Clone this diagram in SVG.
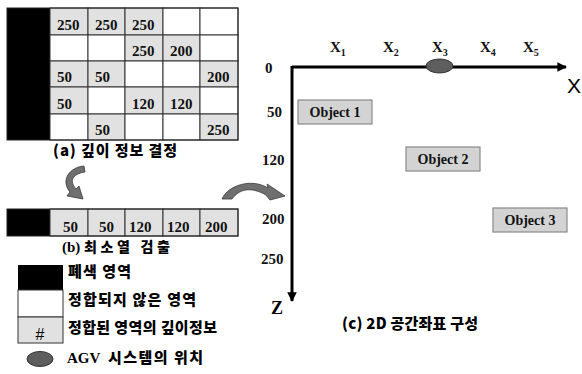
<svg xmlns="http://www.w3.org/2000/svg" width="582" height="374" viewBox="0 0 582 374">
  <style>
    .num { font-family: "Liberation Serif", "Times New Roman", serif; font-weight: bold; font-size: 15px; fill: #111; }
    .ko { font-family: "Noto Sans CJK KR", "Noto Sans", sans-serif; font-weight: 900; font-size: 15px; fill: #000; }
    .ser { font-family: "Liberation Serif", "Times New Roman", serif; font-weight: bold; font-size: 15px; fill: #000; }
    .cell { stroke: #333; stroke-width: 1; }
    .g { fill: #e1e1e1; }
    .w { fill: #ffffff; }
    .blk { fill: #000; }
    .obj rect { fill: #d3d3d3; stroke: #8a8a8a; stroke-width: 1.2; }
    .obj text { font-family: "Liberation Serif", "Times New Roman", serif; font-weight: bold; font-size: 14px; fill: #111; text-anchor: middle; }
    .curve { fill: #6f6f6f; stroke: #3a3a3a; stroke-width: 0.8; }
    .axis { stroke: #000; stroke-width: 3; fill: none; }
  </style>
  <defs>
    <marker id="ah" viewBox="0 0 10 10" refX="9" refY="5" markerWidth="3.6" markerHeight="3.2" orient="auto" markerUnits="strokeWidth">
      <path d="M0,0 L10,5 L0,10 z" fill="#000"/>
    </marker>
  </defs>

  <!-- (a) depth grid -->
  <g id="grid-a">
    <rect class="blk" x="7" y="8" width="43" height="132"/>
    <!-- row 0 -->
    <rect class="cell g" x="50" y="8" width="38" height="27"/>
    <rect class="cell g" x="88" y="8" width="37" height="27"/>
    <rect class="cell g" x="125" y="8" width="38" height="27"/>
    <rect class="cell w" x="163" y="8" width="37" height="27"/>
    <rect class="cell w" x="200" y="8" width="38" height="27"/>
    <!-- row 1 -->
    <rect class="cell w" x="50" y="35" width="38" height="26"/>
    <rect class="cell w" x="88" y="35" width="37" height="26"/>
    <rect class="cell g" x="125" y="35" width="38" height="26"/>
    <rect class="cell g" x="163" y="35" width="37" height="26"/>
    <rect class="cell w" x="200" y="35" width="38" height="26"/>
    <!-- row 2 -->
    <rect class="cell g" x="50" y="61" width="38" height="26"/>
    <rect class="cell g" x="88" y="61" width="37" height="26"/>
    <rect class="cell w" x="125" y="61" width="38" height="26"/>
    <rect class="cell w" x="163" y="61" width="37" height="26"/>
    <rect class="cell g" x="200" y="61" width="38" height="26"/>
    <!-- row 3 -->
    <rect class="cell g" x="50" y="87" width="38" height="27"/>
    <rect class="cell w" x="88" y="87" width="37" height="27"/>
    <rect class="cell g" x="125" y="87" width="38" height="27"/>
    <rect class="cell g" x="163" y="87" width="37" height="27"/>
    <rect class="cell w" x="200" y="87" width="38" height="27"/>
    <!-- row 4 -->
    <rect class="cell w" x="50" y="114" width="38" height="26"/>
    <rect class="cell g" x="88" y="114" width="37" height="26"/>
    <rect class="cell w" x="125" y="114" width="38" height="26"/>
    <rect class="cell w" x="163" y="114" width="37" height="26"/>
    <rect class="cell g" x="200" y="114" width="38" height="26"/>
    <rect x="7" y="8" width="231" height="132" fill="none" stroke="#222" stroke-width="1"/>
    <text class="num" x="57" y="30">250</text>
    <text class="num" x="95" y="30">250</text>
    <text class="num" x="132" y="30">250</text>
    <text class="num" x="132" y="56">250</text>
    <text class="num" x="170" y="56">200</text>
    <text class="num" x="57" y="82">50</text>
    <text class="num" x="95" y="82">50</text>
    <text class="num" x="207" y="82">200</text>
    <text class="num" x="57" y="109">50</text>
    <text class="num" x="132" y="109">120</text>
    <text class="num" x="170" y="109">120</text>
    <text class="num" x="95" y="135">50</text>
    <text class="num" x="207" y="135">250</text>
    <text class="ko" x="53" y="156" textLength="124" lengthAdjust="spacing">(a) 깊이 정보 결정</text>
  </g>

  <!-- (b) minimum row -->
  <g id="row-b">
    <rect class="blk" x="7" y="209" width="43" height="27"/>
    <rect class="cell g" x="50" y="209" width="38" height="27"/>
    <rect class="cell g" x="88" y="209" width="37" height="27"/>
    <rect class="cell g" x="125" y="209" width="38" height="27"/>
    <rect class="cell g" x="163" y="209" width="37" height="27"/>
    <rect class="cell g" x="200" y="209" width="38" height="27"/>
    <rect x="7" y="209" width="231" height="27" fill="none" stroke="#222" stroke-width="1"/>
    <text class="num" x="63" y="232">50</text>
    <text class="num" x="99" y="232">50</text>
    <text class="num" x="129" y="232">120</text>
    <text class="num" x="167" y="232">120</text>
    <text class="num" x="205" y="232">200</text>
    <text class="ser" x="62" y="252">(b)</text>
    <text class="ko" x="84" y="252" style="font-size:14px" textLength="86" lengthAdjust="spacing">최소열 검출</text>
  </g>

  <!-- legend -->
  <g id="legend">
    <rect x="18" y="265" width="45" height="25" fill="#000"/>
    <rect x="18" y="290" width="45" height="27" fill="#fff" stroke="#333" stroke-width="1"/>
    <rect x="18" y="317" width="45" height="26" fill="#e1e1e1" stroke="#333" stroke-width="1"/>
    <text x="40" y="340" text-anchor="middle" font-family="Liberation Sans, Arial, sans-serif" font-size="16" fill="#000">#</text>
    <text class="ko" x="68" y="277" textLength="63" lengthAdjust="spacing">폐색 영역</text>
    <text class="ko" x="68" y="305" textLength="128" lengthAdjust="spacing">정합되지 않은 영역</text>
    <text class="ko" x="68" y="333" textLength="149" lengthAdjust="spacing">정합된 영역의 깊이정보</text>
    <ellipse cx="40" cy="359" rx="13" ry="7.5" fill="#5e5e5e" stroke="#333" stroke-width="1"/>
    <text class="ser" x="67" y="363">AGV</text>
    <text class="ko" x="108" y="363" textLength="95" lengthAdjust="spacing">시스템의 위치</text>
  </g>

  <!-- transition arrows between stages -->
  <g id="connectors">
    <path class="curve" d="M84,166 C70,167 60,180 70,192 L67,196 L83,199 L79,186 L76,189 C69,181 72,174 85,172 Z"/>
    <path class="curve" d="M222,199 C228,185 252,178 268,188 L267,184 L285,196 L270,200 L266,195 C252,187 240,188 232,199 Z"/>
  </g>

  <!-- (c) 2D coordinate frame -->
  <g id="axes">
    <line class="axis" x1="292" y1="67" x2="566" y2="67" marker-end="url(#ah)"/>
    <line class="axis" x1="292" y1="66" x2="292" y2="301" marker-end="url(#ah)"/>
    <ellipse cx="439.5" cy="66" rx="13.5" ry="7" fill="#5e5e5e" stroke="#333" stroke-width="1"/>
    <text x="567" y="93" font-family="Liberation Sans, Arial, sans-serif" font-size="21" fill="#000">X</text>
    <text x="271" y="314" font-family="Liberation Serif, serif" font-weight="bold" font-size="18" fill="#000">Z</text>
    <g class="num">
      <text x="330" y="52">X<tspan font-size="10" dy="4">1</tspan></text>
      <text x="383" y="52">X<tspan font-size="10" dy="4">2</tspan></text>
      <text x="432" y="52">X<tspan font-size="10" dy="4">3</tspan></text>
      <text x="480" y="52">X<tspan font-size="10" dy="4">4</tspan></text>
      <text x="523" y="52">X<tspan font-size="10" dy="4">5</tspan></text>
    </g>
    <g class="num">
      <text x="265" y="73">0</text>
      <text x="267" y="117">50</text>
      <text x="262" y="165">120</text>
      <text x="262" y="224">200</text>
      <text x="261" y="264">250</text>
    </g>
    <text class="ko" x="342" y="329" textLength="136" lengthAdjust="spacing">(c) 2D 공간좌표 구성</text>
  </g>

  <g id="object1" class="obj">
    <rect x="298" y="100" width="74" height="24"/>
    <text x="335" y="117">Object 1</text>
  </g>
  <g id="object2" class="obj">
    <rect x="406" y="147" width="74" height="24"/>
    <text x="443" y="164">Object 2</text>
  </g>
  <g id="object3" class="obj">
    <rect x="493" y="208" width="74" height="24"/>
    <text x="530" y="225">Object 3</text>
  </g>
</svg>
